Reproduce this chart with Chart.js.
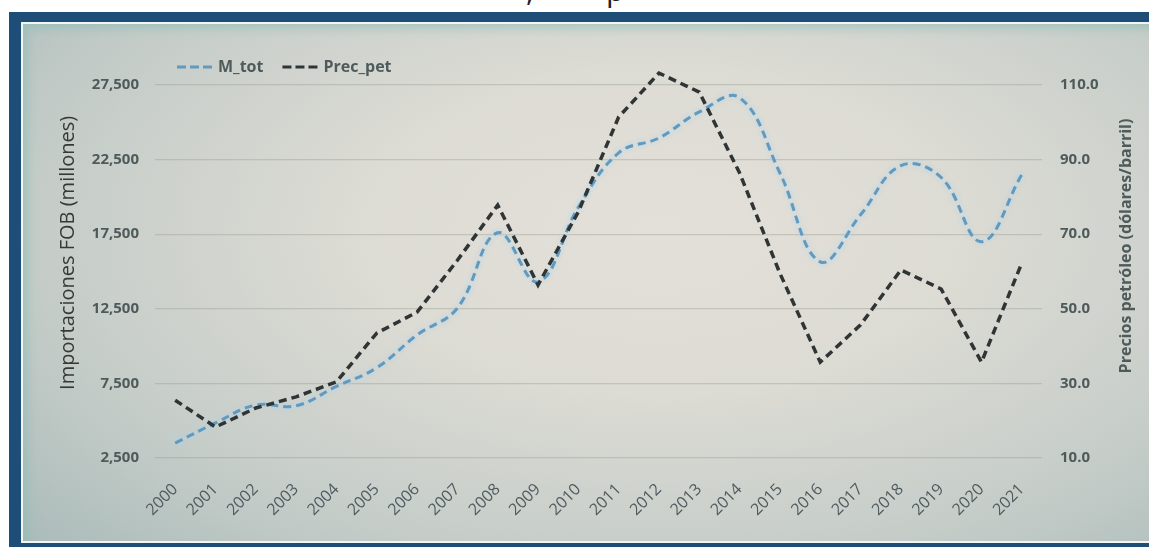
<!DOCTYPE html>
<html>
<head>
<meta charset="utf-8">
<script src="https://cdn.jsdelivr.net/npm/chart.js@4.4.1/dist/chart.umd.min.js"></script>
<style>
    html, body { margin: 0; padding: 0; background: #ffffff; overflow: hidden; }
    #stage { position: relative; width: 1149px; height: 547px; overflow: hidden; }
    #heading { position: absolute; left: 0; top: -25px; width: 1149px; height: 40px;
        font: 30px/1 "Open Sans", sans-serif; color: #222; }
    #heading span { position: absolute; top: 0; }
    #frame { position: absolute; left: 9px; top: 12px; width: 1200px; height: 600px; background: #1e4d78; }
    #panel { position: absolute; left: 21px; top: 22px; width: 1160px; height: 521px;
        box-sizing: border-box; border: 2px solid #f2f5f5; border-right: none;
        background: radial-gradient(ellipse 75% 90% at 55% 40%, #e3e0d9 0%, #dcdbd4 35%, #c6cdc9 70%, #aabbb9 100%);
        box-shadow: inset 9px 9px 8px -4px rgba(140, 190, 180, 0.55); }
    #wrap { position: absolute; left: 0; top: 0; width: 1149px; height: 547px; }
</style>
</head>
<body>
<div id="stage">
    <div id="heading"><span style="left:526px">,</span><span style="left:606px">p</span></div>
    <div id="frame"></div>
    <div id="panel"></div>
    <div id="wrap"><canvas id="chart"></canvas></div>
</div>
<script>
// Importaciones totales FOB vs precio del petróleo, 2000-2021

const years = ['2000', '2001', '2002', '2003', '2004', '2005', '2006', '2007', '2008', '2009', '2010',
               '2011', '2012', '2013', '2014', '2015', '2016', '2017', '2018', '2019', '2020', '2021'];

// M_tot: importaciones FOB (millones)
const mTot = [3500, 4850, 6050, 6000, 7300, 8550, 10750, 12550, 17600, 14300, 19300,
              22950, 23950, 25700, 26650, 21600, 15650, 18800, 22100, 21300, 17000, 21500];

// Prec_pet: precio del petróleo (dólares/barril)
const precPet = [25.5, 18.3, 23.4, 26.4, 30.4, 43.5, 49.1, 63.0, 77.8, 56.4, 76.0,
                 101.4, 113.2, 108.1, 86.4, 59.5, 35.7, 45.7, 60.4, 55.3, 35.7, 62.3];

const leftTicks = [2500, 7500, 12500, 17500, 22500, 27500];
const rightTicks = [10, 30, 50, 70, 90, 110];

const tickColor = '#4f5b5b';
const gridColor = 'rgba(150, 152, 142, 0.38)';

Chart.defaults.font.family = '"Open Sans", sans-serif';

// soft light-blue halo under the M_tot line
const glowPlugin = {
    id: 'glow',
    beforeDatasetDraw(chart, args) {
        chart.ctx.save();
        if (args.index === 0) {
            chart.ctx.shadowColor = 'rgba(165, 212, 238, 0.95)';
            chart.ctx.shadowBlur = 5;
        }
    },
    afterDatasetDraw(chart) {
        chart.ctx.restore();
    }
};

// legend with dashed samples, inside the plot area top-left
const dashLegend = {
    id: 'dashLegend',
    afterDraw(chart) {
        const ctx = chart.ctx;
        let x = 177;
        const y = 67;
        chart.data.datasets.forEach(ds => {
            ctx.save();
            ctx.strokeStyle = ds.borderColor;
            ctx.lineWidth = 3;
            ctx.setLineDash([9, 4]);
            ctx.beginPath();
            ctx.moveTo(x, y);
            ctx.lineTo(x + 35, y);
            ctx.stroke();
            ctx.restore();
            ctx.save();
            ctx.fillStyle = tickColor;
            ctx.font = 'bold 16px "Open Sans", sans-serif';
            ctx.textBaseline = 'middle';
            ctx.fillText(ds.label, x + 41, y);
            x += 41 + ctx.measureText(ds.label).width + 19;
            ctx.restore();
        });
    }
};

// right axis title reads bottom-to-top like the left one
const rightTitle = {
    id: 'rightTitle',
    afterDraw(chart) {
        const ctx = chart.ctx;
        ctx.save();
        ctx.translate(1126, 246);
        ctx.rotate(-Math.PI / 2);
        ctx.fillStyle = tickColor;
        ctx.font = 'bold 16px "Open Sans", sans-serif';
        ctx.textAlign = 'center';
        ctx.textBaseline = 'middle';
        ctx.fillText('Precios petróleo (dólares/barril)', 0, 0);
        ctx.restore();
    }
};

new Chart(document.getElementById('chart'), {
    type: 'line',
    data: {
        labels: years,
        datasets: [
            {
                label: 'M_tot',
                data: mTot,
                yAxisID: 'y',
                borderColor: '#6199bf',
                borderWidth: 3,
                borderDash: [8, 5],
                tension: 0.4,
                pointRadius: 0,
                fill: false,
                order: 1
            },
            {
                label: 'Prec_pet',
                data: precPet,
                yAxisID: 'y1',
                borderColor: '#2f3434',
                borderWidth: 3.5,
                borderDash: [8, 5],
                tension: 0,
                pointRadius: 0,
                fill: false,
                order: 0
            }
        ]
    },
    options: {
        responsive: true,
        maintainAspectRatio: false,
        animation: false,
        layout: { padding: { top: 47.7, left: 0, right: 0, bottom: 0 } },
        plugins: {
            legend: { display: false },
            tooltip: { enabled: false }
        },
        scales: {
            x: {
                offset: true,
                grid: { display: false, offset: true },
                border: { display: false },
                ticks: {
                    color: '#4f5b5f',
                    font: { size: 16 },
                    maxRotation: 45,
                    minRotation: 45,
                    autoSkip: false,
                    padding: 14
                },
                afterFit(scale) { scale.height = 89; }
            },
            y: {
                position: 'left',
                min: 2500,
                max: 30000,
                afterBuildTicks(scale) { scale.ticks = leftTicks.map(v => ({ value: v })); },
                grid: { color: gridColor, lineWidth: 1.3, drawTicks: false },
                border: { display: false },
                ticks: {
                    color: tickColor,
                    padding: 16,
                    font: { size: 15, weight: 'bold' },
                    callback: v => v.toLocaleString('en-US')
                },
                title: {
                    display: true,
                    text: 'Importaciones FOB (millones)',
                    color: '#363939',
                    font: { size: 20 },
                    padding: { top: 56, bottom: 0 }
                },
                afterFit(scale) { scale.width = 155; }
            },
            y1: {
                position: 'right',
                min: 10,
                max: 120,
                afterBuildTicks(scale) { scale.ticks = rightTicks.map(v => ({ value: v })); },
                grid: { display: false, drawTicks: false },
                border: { display: false },
                ticks: {
                    color: tickColor,
                    padding: 18,
                    font: { size: 15, weight: 'bold' },
                    callback: v => v.toFixed(1)
                },
                afterFit(scale) { scale.width = 107; }
            }
        }
    },
    plugins: [glowPlugin, dashLegend, rightTitle]
});
</script>
</body>
</html>
